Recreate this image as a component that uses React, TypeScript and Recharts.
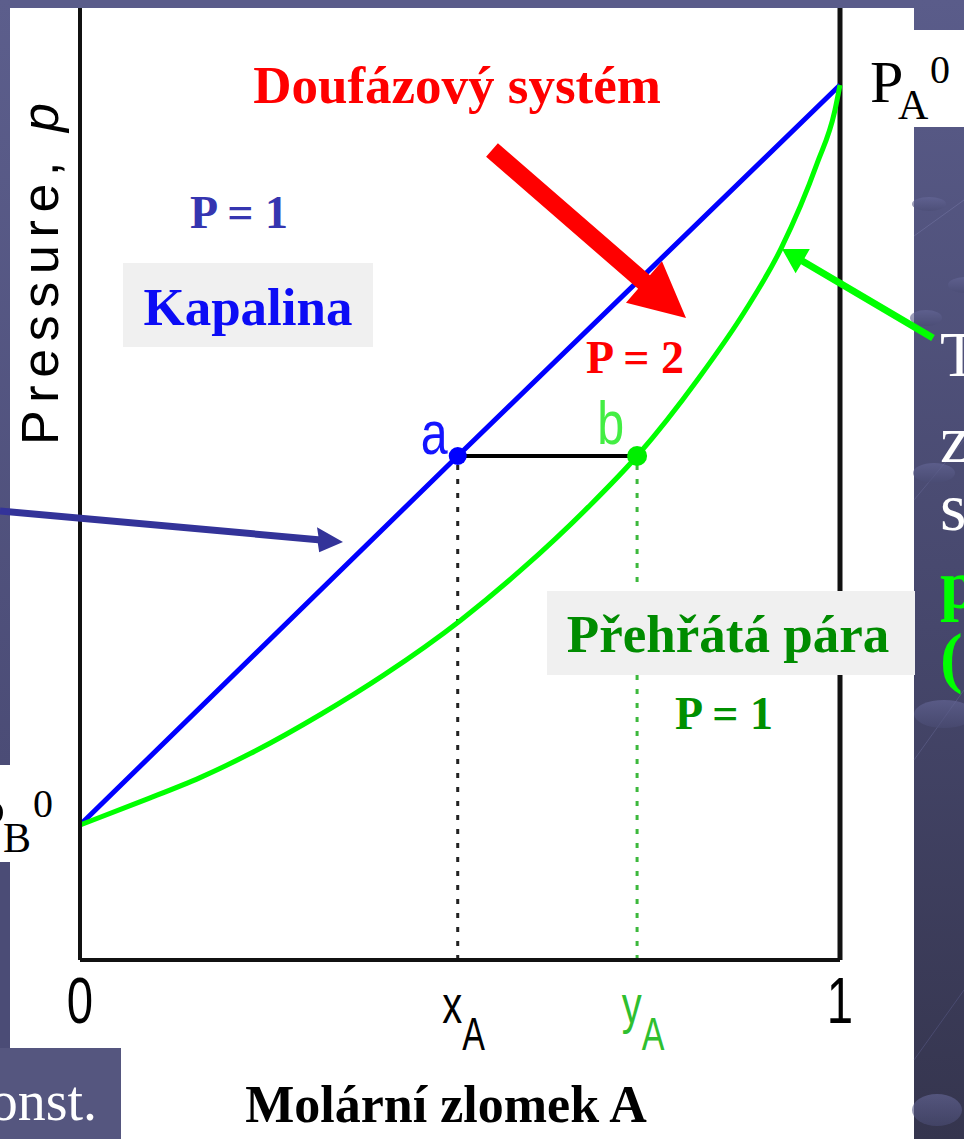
import React from 'react';
import { ComposedChart, Line, XAxis, YAxis, ReferenceLine, ReferenceDot } from 'recharts';

const W = 964;
const H = 1139;

const SERIF = '"Liberation Serif", "Times New Roman", serif';
const SANS = '"Liberation Sans", Arial, sans-serif';

// Liquid (bubble-point) line: pressure vs. mole fraction of A
const liquidX = [0, 0.497, 1];
const liquidP = [14.06, 52.5, 91.15];

// Vapour (dew-point) curve
const vaporX = [0, 0.083, 0.158, 0.224, 0.317, 0.4, 0.501, 0.58, 0.669, 0.733, 0.814, 0.875, 0.923, 0.97, 0.993, 1];
const vaporP = [14.06, 16.6, 19.0, 21.5, 25.6, 29.7, 35.4, 40.6, 47.2, 52.5, 60.6, 67.6, 74.2, 83.0, 88.4, 91.15];

// Tie line a–b
const xA = 0.497;
const yA = 0.733;
const tieP = 52.5;

// x-axis ticks
const tickValues = [0, xA, yA, 1];
const tickMain = ['0', 'x', 'y', '1'];
const tickSub = ['', 'A', 'A', ''];
const tickColors = ['#000000', '#000000', '#2fbf2f', '#000000'];

const XTick = (props: any) => {
  const { x, y, payload } = props;
  let i = tickValues.indexOf(payload?.value);
  if (i < 0) i = props.index ?? 0;
  const sub = tickSub[i];
  return (
    <g transform={`translate(${x},${y}) scale(0.74,1)`}>
      <text
        x={sub ? 8 : 0}
        y={63}
        textAnchor="middle"
        fontFamily={SANS}
        fontSize={sub ? 54 : 64}
        fill={tickColors[i]}
      >
        {tickMain[i]}
        {sub ? (
          <tspan fontSize={46} dy={27}>
            {sub}
          </tspan>
        ) : null}
      </text>
    </g>
  );
};

const PressureTitle = (props: any) => {
  const vb = props.viewBox || { x: 0, y: 0 };
  return (
    <text
      transform={`translate(${vb.x + 58},${vb.y + 445}) rotate(-90)`}
      fontFamily={SANS}
      fontSize={52}
      fill="#000"
      textLength={342}
      lengthAdjust="spacing"
    >
      Pressure, <tspan fontStyle="italic">p</tspan>
    </text>
  );
};

const FractionTitle = (props: any) => {
  const vb = props.viewBox || { x: 80, y: 960 };
  return (
    <text
      x={vb.x + 366}
      y={vb.y + 162}
      textAnchor="middle"
      fontFamily={SERIF}
      fontWeight="bold"
      fontSize={52}
      fill="#000"
    >
      Molární zlomek A
    </text>
  );
};

const PointA = (p: any) => (
  <g>
    <circle cx={p.cx} cy={p.cy} r={9} fill="#0000ff" />
    <g transform={`translate(${p.cx - 10},${p.cy - 2}) scale(0.78,1)`}>
      <text textAnchor="end" fontFamily={SANS} fontSize={62} fill="#1414ff">
        a
      </text>
    </g>
  </g>
);

const PointB = (p: any) => (
  <g>
    <circle cx={p.cx} cy={p.cy} r={10} fill="#00ee00" />
    <g transform={`translate(${p.cx - 13},${p.cy - 12}) scale(0.78,1)`}>
      <text textAnchor="end" fontFamily={SANS} fontSize={62} fill="#44ee44">
        b
      </text>
    </g>
  </g>
);

// Slide decoration, boxes, annotations and arrows drawn above the chart
const Overlay = () => (
  <svg
    width={W}
    height={H}
    style={{ position: 'absolute', left: 0, top: 0, pointerEvents: 'none' }}
  >
    <defs>
      <linearGradient id="slate" x1="0" y1="0" x2="0" y2="1">
        <stop offset="0" stopColor="#5a5c8a" />
        <stop offset="0.55" stopColor="#46476c" />
        <stop offset="1" stopColor="#35354e" />
      </linearGradient>
      <linearGradient id="slateLeft" x1="0" y1="0" x2="0" y2="1">
        <stop offset="0" stopColor="#5c5e8c" />
        <stop offset="1" stopColor="#4b4c76" />
      </linearGradient>
      <linearGradient id="bubble" x1="0" y1="0" x2="0" y2="1">
        <stop offset="0" stopColor="#67699a" />
        <stop offset="1" stopColor="#4a4c74" />
      </linearGradient>
    </defs>

    {/* slide background pieces */}
    <rect x={0} y={0} width={W} height={8} fill="#5a5c8a" />
    <rect x={0} y={0} width={10} height={765} fill="url(#slateLeft)" />
    <rect x={0} y={862} width={10} height={186} fill="#4b4c76" />
    <rect x={914} y={0} width={50} height={H} fill="url(#slate)" />
    <g opacity={0.45}>
      <line x1={914} y1={236} x2={964} y2={200} stroke="#7a7cab" strokeWidth={1} />
      <line x1={914} y1={500} x2={964} y2={440} stroke="#6a6c9a" strokeWidth={1} />
      <line x1={914} y1={760} x2={964} y2={690} stroke="#6a6c9a" strokeWidth={1} />
      <line x1={914} y1={1060} x2={964} y2={990} stroke="#5e6090" strokeWidth={1} />
    </g>
    <g opacity={0.6}>
      <ellipse cx={929} cy={204} rx={17} ry={7} fill="url(#bubble)" />
      <ellipse cx={966} cy={285} rx={18} ry={8} fill="url(#bubble)" />
      <ellipse cx={926} cy={318} rx={16} ry={8} fill="url(#bubble)" />
      <ellipse cx={934} cy={473} rx={21} ry={10} fill="url(#bubble)" />
      <ellipse cx={944} cy={714} rx={30} ry={14} fill="url(#bubble)" />
      <ellipse cx={937} cy={1110} rx={25} ry={16} fill="url(#bubble)" />
    </g>
    <rect x={914} y={30} width={50} height={97} fill="#ffffff" />
    <rect x={0} y={1048} width={121} height={91} fill="#55567f" />

    {/* P_A^0 and P_B^0 */}
    <g fontFamily={SERIF} fill="#000">
      <text x={870} y={102} fontSize={60}>P</text>
      <text x={898} y={119} fontSize={42}>A</text>
      <text x={930} y={83} fontSize={40}>0</text>
      <text x={-28} y={840} fontSize={60}>P</text>
      <text x={3} y={852} fontSize={42}>B</text>
      <text x={33} y={817} fontSize={40}>0</text>
    </g>

    <text x={97} y={1120} textAnchor="end" fontFamily={SERIF} fontSize={56} fill="#ffffff">
      konst.
    </text>

    {/* region labels */}
    <g fontFamily={SERIF} fontWeight="bold">
      <text x={457} y={103} textAnchor="middle" fontSize={53} fill="#ff0000">
        Doufázový systém
      </text>
      <text x={239} y={228} textAnchor="middle" fontSize={46} fill="#3535b0">
        P = 1
      </text>
      <rect x={123} y={263} width={250} height={84} fill="#f0f0f0" />
      <text x={248} y={325} textAnchor="middle" fontSize={53} fill="#0c0cf5">
        Kapalina
      </text>
      <text x={635} y={373} textAnchor="middle" fontSize={46} fill="#ff0000">
        P = 2
      </text>
      <rect x={547} y={591} width={368} height={84} fill="#f0f0f0" />
      <text x={728} y={652} textAnchor="middle" fontSize={53} fill="#008c00">
        Přehřátá pára
      </text>
      <text x={724} y={729} textAnchor="middle" fontSize={46} fill="#009000">
        P = 1
      </text>
    </g>

    {/* arrows */}
    <polygon
      points="497.9,143.2 649.9,275.2 662,261.2 686,318 626,302.8 638.1,288.8 486.1,156.8"
      fill="#ff0000"
    />
    <polygon
      points="0.3,507.5 318.4,536.2 317,527.3 343,542 319.2,552.2 317.8,543.2 -0.3,514.5"
      fill="#333399"
    />
    <polygon
      points="934.8,335 804.5,258.2 809.8,249.1 782,249 795.6,273.3 801,264.2 931.2,341"
      fill="#00ff00"
    />

    {/* side text */}
    <g fontFamily={SERIF}>
      <text x={940} y={376} fontSize={64} fill="#ffffff">T</text>
      <text x={940} y={462} fontSize={68} fill="#ffffff">z</text>
      <text x={940} y={530} fontSize={68} fill="#ffffff">s</text>
      <text x={940} y={608} fontSize={68} fontWeight="bold" fill="#00ff00">p</text>
      <text x={940} y={680} fontSize={68} fontWeight="bold" fill="#00ff00">(</text>
    </g>
  </svg>
);

export default function App() {
  const liquid = liquidX.map((x, i) => ({ x, p: liquidP[i] }));
  const vapor = vaporX.map((x, i) => ({ x, p: vaporP[i] }));
  return (
    <div
      style={{
        position: 'absolute',
        left: 0,
        top: 0,
        width: W,
        height: H,
        background: '#ffffff',
        overflow: 'hidden',
      }}
    >
      <ComposedChart width={W} height={H} margin={{ top: 0, right: 124, bottom: 0, left: 0 }}>
        <XAxis
          type="number"
          dataKey="x"
          domain={[0, 1]}
          ticks={tickValues}
          interval={0}
          tick={<XTick />}
          tickLine={false}
          tickSize={0}
          tickMargin={0}
          height={179}
          axisLine={{ stroke: '#111', strokeWidth: 4 }}
          label={(p: any) => <FractionTitle {...p} />}
        />
        <YAxis
          type="number"
          domain={[0, 100]}
          width={80}
          tick={false}
          tickLine={false}
          axisLine={{ stroke: '#111', strokeWidth: 4 }}
          label={(p: any) => <PressureTitle {...p} />}
        />
        <ReferenceLine x={1} stroke="#111" strokeWidth={5} />
        <ReferenceLine
          segment={[{ x: xA, y: 0 }, { x: xA, y: tieP }]}
          stroke="#222"
          strokeWidth={3}
          strokeDasharray="5 9"
        />
        <ReferenceLine
          segment={[{ x: yA, y: 0 }, { x: yA, y: tieP }]}
          stroke="#3cb83c"
          strokeWidth={3}
          strokeDasharray="5 9"
        />
        <ReferenceLine
          segment={[{ x: xA, y: tieP }, { x: yA, y: tieP }]}
          stroke="#000"
          strokeWidth={4}
        />
        <Line
          data={liquid}
          dataKey="p"
          type="linear"
          stroke="#0000ff"
          strokeWidth={5}
          dot={false}
          activeDot={false}
          isAnimationActive={false}
        />
        <Line
          data={vapor}
          dataKey="p"
          type="monotone"
          stroke="#00ff00"
          strokeWidth={5}
          dot={false}
          activeDot={false}
          isAnimationActive={false}
        />
        <ReferenceDot x={xA} y={tieP} r={9} shape={(p: any) => <PointA {...p} />} />
        <ReferenceDot x={yA} y={tieP} r={10} shape={(p: any) => <PointB {...p} />} />
      </ComposedChart>
      <Overlay />
    </div>
  );
}
